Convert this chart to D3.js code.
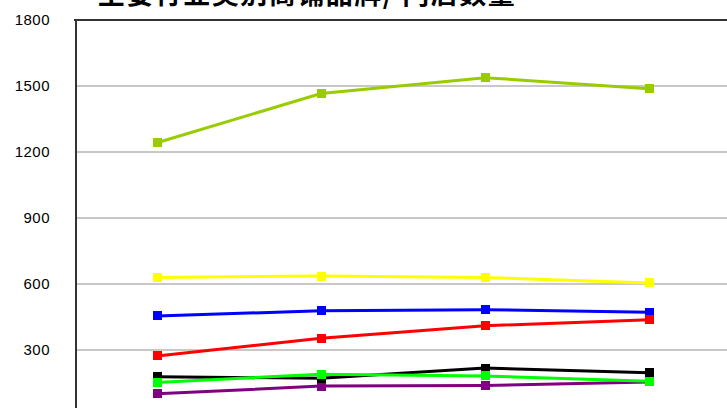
<!DOCTYPE html>
<html><head><meta charset="utf-8">
<script src="https://cdn.jsdelivr.net/npm/d3@7"></script>
<style>body{margin:0;background:#fff;overflow:hidden}svg{display:block}</style>
</head><body><svg id="c" width="727" height="408"></svg>
<script>
const categories = ["P1","P2","P3","P4"];
const seriesNames = ["s1","s2","s3","s4","s5","s6","s7"];
const seriesColors = ["#99CC00","#FFFF00","#0000FF","#FF0000","#800080","#000000","#00FF00"];
const s1 = [1242,1466,1538,1488];
const s2 = [630,636,630,605];
const s3 = [455,478,483,472];
const s4 = [273,353,410,438];
const s5 = [101,136,139,155];
const s6 = [178,172,218,197];
const s7 = [152,190,182,158];
const seriesValues = [s1,s2,s3,s4,s5,s6,s7];
const yTicks = [0,300,600,900,1200,1500,1800];
const title = "主要行业类别商铺品牌/ 门店数量";

(function(){
const svg = d3.select("#c");
const pl = 75, pr = 731, pt = 20, pb = 416;
const x = d3.scalePoint().domain(categories).range([pl, pr]).padding(0.5);
const y = d3.scaleLinear().domain([0,1800]).range([pb, pt]);

svg.append("g").selectAll("line").data(yTicks.filter(d=>d>0 && d<1800)).join("line")
  .attr("x1", pl).attr("x2", 727).attr("y1", d=>y(d)).attr("y2", d=>y(d))
  .attr("stroke","#c8c8c8").attr("stroke-width",2).attr("shape-rendering","crispEdges");

const yAxis = d3.axisLeft(y).tickValues(yTicks).tickSize(0).tickPadding(25).tickFormat(d3.format("d"));
const ag = svg.append("g").attr("transform",`translate(${pl},0)`).call(yAxis);
ag.select(".domain").attr("stroke","#333").attr("stroke-width",2).attr("shape-rendering","crispEdges");
ag.selectAll("text").attr("font-family","Liberation Sans, Arial, sans-serif").attr("font-size",15)
  .attr("letter-spacing","0.5px").attr("fill","#000");

svg.append("line").attr("x1",pl-1).attr("x2",727).attr("y1",y(1800)).attr("y2",y(1800))
  .attr("stroke","#333").attr("stroke-width",2).attr("shape-rendering","crispEdges");

const line = d3.line().x((d,i)=>x(categories[i])).y(d=>y(d));
seriesValues.forEach((vals,k)=>{
  const g = svg.append("g");
  g.append("path").datum(vals).attr("d",line).attr("fill","none")
    .attr("stroke",seriesColors[k]).attr("stroke-width",3);
  g.selectAll("rect").data(vals).join("rect")
    .attr("x",(d,i)=>x(categories[i])-4.5).attr("y",d=>y(d)-4.5)
    .attr("width",9).attr("height",9).attr("fill",seriesColors[k])
    .attr("shape-rendering","crispEdges");
});

svg.append("text").attr("x",307).attr("y",4).attr("text-anchor","middle")
  .attr("font-family","Noto Sans CJK SC, sans-serif").attr("font-weight","bold")
  .attr("font-size",27).attr("letter-spacing","1.5px").attr("fill","#000").text(title);
})();
</script></body></html>
